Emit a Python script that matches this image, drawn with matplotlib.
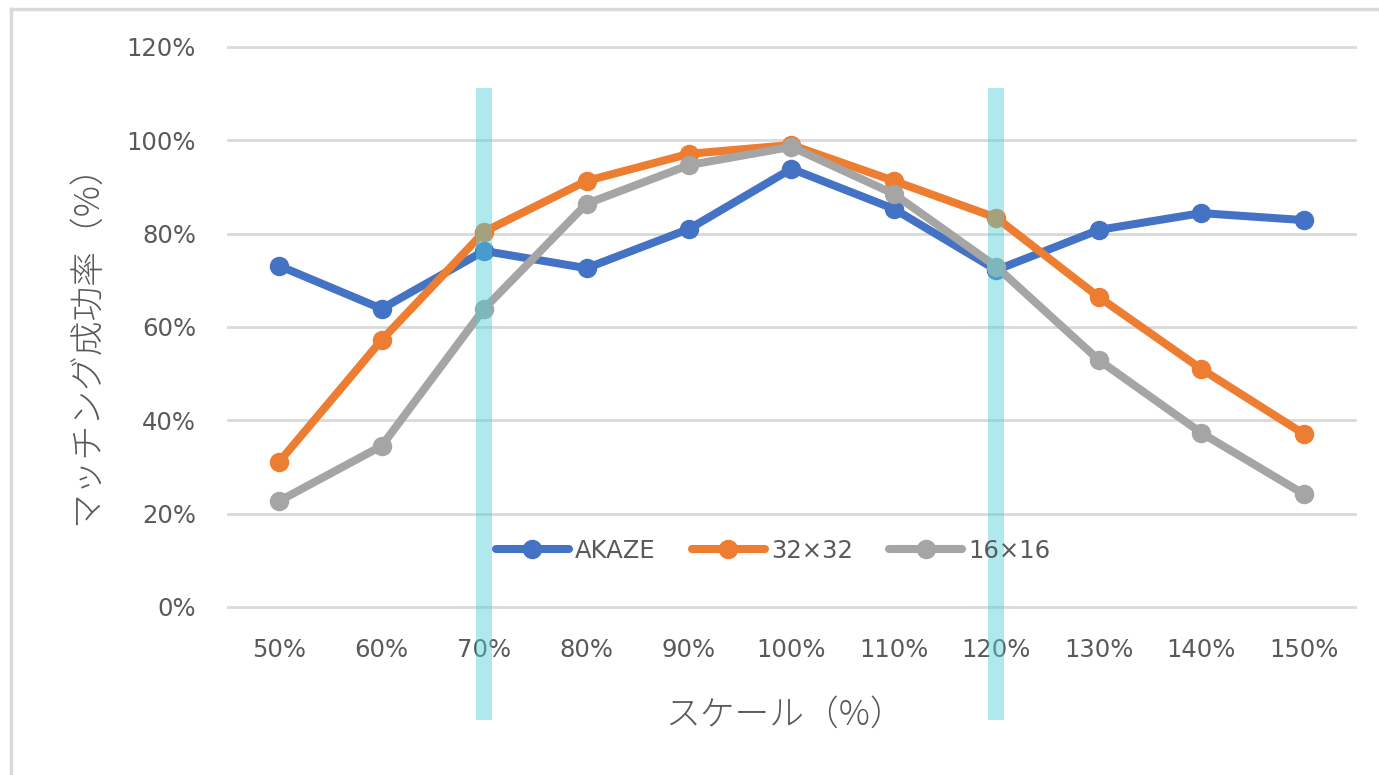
import matplotlib
matplotlib.use('Agg')
import matplotlib.pyplot as plt
from matplotlib.lines import Line2D
import numpy as np

plt.rcParams['font.family'] = ['DejaVu Sans', 'Noto Sans CJK JP']

# scale factors (%) and matching success rates (%)
scales = ['50%', '60%', '70%', '80%', '90%', '100%', '110%', '120%', '130%', '140%', '150%']
akaze = [73.1, 63.9, 76.3, 72.6, 81.0, 93.9, 85.3, 72.2, 80.8, 84.4, 82.9]
tmpl_32 = [31.1, 57.2, 80.4, 91.3, 97.1, 99.0, 91.3, 83.4, 66.4, 51.0, 37.1]
tmpl_16 = [22.7, 34.5, 63.9, 86.4, 94.7, 98.6, 88.5, 72.9, 52.9, 37.3, 24.2]
highlight = ['70%', '120%']

text_c = '#595959'
grid_c = '#D9D9D9'

fig = plt.figure(figsize=(13.79, 7.75), dpi=100)
ax = fig.add_axes([0.1653, 0.2168, 0.8173, 0.7226])

x = np.arange(len(scales))
series = [('AKAZE', akaze, '#4472C4'),
          ('32×32', tmpl_32, '#ED7D31'),
          ('16×16', tmpl_16, '#A5A5A5')]
for name, vals, col in series:
    ax.plot(x, vals, color=col, lw=5.8, marker='o', ms=13,
            solid_capstyle='round', label=name, zorder=3)

# cyan highlight bars at selected scales
hx = [scales.index(s) for s in highlight]
ax.bar(hx, 135.4, bottom=-24.2, width=0.155, color='#4FCFD8', alpha=0.45,
       clip_on=False, zorder=4, linewidth=0)

ax.set_xlim(-0.5, len(scales) - 0.5)
ax.set_ylim(0, 120)
ax.set_yticks(np.arange(0, 121, 20))
ax.set_yticklabels(['{}%'.format(v) for v in range(0, 121, 20)])
ax.set_xticks(x)
ax.set_xticklabels(scales)
ax.tick_params(axis='both', length=0, labelsize=17.5, labelcolor=text_c)
ax.tick_params(axis='x', pad=22)
ax.tick_params(axis='y', pad=23)
ax.grid(axis='y', color=grid_c, lw=2)
for gl in ax.get_ygridlines():
    gl.set_clip_on(False)
ax.set_axisbelow(True)
for sp in ax.spines.values():
    sp.set_visible(False)

jp = ['Noto Sans CJK JP', 'DejaVu Sans']
ax.set_ylabel('マッチング成功率（%）', fontsize=25, color=text_c,
              family=jp, fontweight='light')
ax.yaxis.set_label_coords(-0.11, 0.484)
ax.set_xlabel('スケール（%）', fontsize=25, color=text_c,
              family=jp, fontweight='light')
ax.xaxis.set_label_coords(0.494, -0.16)

leg = ax.legend(loc='center', bbox_to_anchor=(0.4836, 0.1), ncol=3,
                frameon=False, fontsize=17.5, handlelength=3.0,
                columnspacing=1.5, handletextpad=0.25)
for t in leg.get_texts():
    t.set_color(text_c)

# outer chart frame (left and top edges)
fig.add_artist(Line2D([0.008, 0.008], [0.0, 0.989], color=grid_c, lw=2.5))
fig.add_artist(Line2D([0.008, 1.0], [0.989, 0.989], color=grid_c, lw=2.5))

fig.savefig('out.png', dpi=100)
